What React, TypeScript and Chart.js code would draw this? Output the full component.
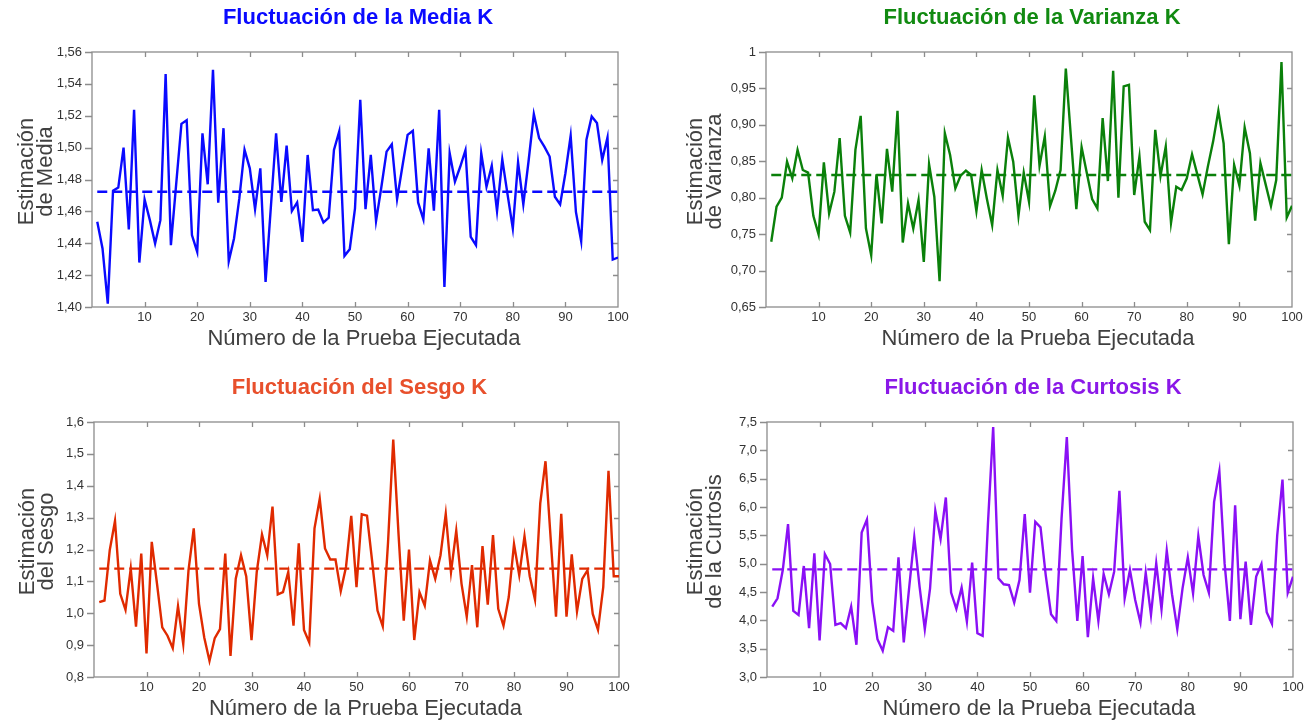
import React, { useEffect, useRef } from 'react';
import { Chart, registerables } from 'chart.js';

Chart.register(...registerables);

// ---------- DATA ----------
const pruebaTickLabels = ['10', '20', '30', '40', '50', '60', '70', '80', '90', '100'];

const mediaK = [
  1.4535, 1.4367, 1.4021, 1.473, 1.4749, 1.5, 1.4486, 1.5237, 1.4279, 1.4675,
  1.4545, 1.4398, 1.4545, 1.5462, 1.4388, 1.477, 1.5149, 1.5172, 1.4451, 1.4346,
  1.509, 1.477, 1.5489, 1.4654, 1.5122, 1.4287, 1.443, 1.468, 1.4986, 1.487,
  1.4614, 1.487, 1.4157, 1.4625, 1.509, 1.466, 1.5013, 1.4602, 1.4656, 1.4409,
  1.4954, 1.4608, 1.4612, 1.453, 1.456, 1.4986, 1.5101, 1.4321, 1.4363, 1.4619,
  1.53, 1.4614, 1.4954, 1.4539, 1.475, 1.4975, 1.5021, 1.4677, 1.488, 1.508,
  1.5105, 1.4656, 1.455, 1.4996, 1.4604, 1.5237, 1.4126, 1.4965, 1.4787, 1.488,
  1.4984, 1.444, 1.4388, 1.4965, 1.4755, 1.4887, 1.4602, 1.4927, 1.4707, 1.4493,
  1.4908, 1.4644, 1.4916, 1.521, 1.506, 1.5006, 1.4944, 1.4692, 1.4644, 1.4839,
  1.5074, 1.4597, 1.4413, 1.505, 1.5196, 1.5154, 1.4923, 1.5064, 1.4298, 1.431,
];
const mediaMean = 1.4723;
const mediaTickLabels = ['1,40', '1,42', '1,44', '1,46', '1,48', '1,50', '1,52', '1,54', '1,56'];

const varianzaK = [
  0.7395, 0.7876, 0.8, 0.8495, 0.8266, 0.8656, 0.838, 0.8344, 0.7752, 0.7495,
  0.8486, 0.7784, 0.8083, 0.8817, 0.7752, 0.7523, 0.8656, 0.9124, 0.7578, 0.7211,
  0.8321, 0.7647, 0.867, 0.8083, 0.9193, 0.7385, 0.7922, 0.7578, 0.7968, 0.7119,
  0.8459, 0.8014, 0.6853, 0.8885, 0.8587, 0.8128, 0.8303, 0.8372, 0.8312, 0.7817,
  0.838, 0.7982, 0.7624, 0.838, 0.8028, 0.8826, 0.8495, 0.7752, 0.8344, 0.7945,
  0.9404, 0.844, 0.884, 0.7885, 0.8096, 0.838, 0.9771, 0.88, 0.7844, 0.8693,
  0.8335, 0.7982, 0.7853, 0.9092, 0.8229, 0.9743, 0.8, 0.9528, 0.955, 0.8037,
  0.8564, 0.767, 0.7555, 0.8931, 0.8298, 0.8702, 0.7656, 0.8151, 0.8106, 0.8266,
  0.8596, 0.832, 0.8046, 0.8427, 0.877, 0.9193, 0.8747, 0.7362, 0.845, 0.8165,
  0.8963, 0.861, 0.7684, 0.8472, 0.818, 0.7885, 0.8243, 0.9862, 0.7729, 0.789,
];
const varianzaMean = 0.8312;
const varianzaTickLabels = ['0,65', '0,70', '0,75', '0,80', '0,85', '0,90', '0,95', '1'];

const sesgoK = [
  1.0347, 1.04, 1.198, 1.2895, 1.061, 1.0105, 1.14, 0.958, 1.1874, 0.8737,
  1.2242, 1.0926, 0.9558, 0.9295, 0.8905, 1.0221, 0.9032, 1.1347, 1.2663, 1.0295,
  0.9242, 0.8505, 0.9221, 0.9505, 1.1874, 0.8663, 1.1084, 1.1821, 1.1158, 0.9158,
  1.1295, 1.2474, 1.1821, 1.3347, 1.059, 1.0663, 1.1295, 0.9611, 1.219, 0.9474,
  0.9084, 1.2663, 1.359, 1.2032, 1.1684, 1.1684, 1.0695, 1.1453, 1.3053, 1.0821,
  1.3105, 1.3063, 1.16, 1.0084, 0.959, 1.22, 1.545, 1.25, 0.977, 1.2,
  0.916, 1.066, 1.024, 1.166, 1.108, 1.182, 1.312, 1.129, 1.259, 1.093,
  0.989, 1.151, 0.956, 1.211, 1.027, 1.245, 1.014, 0.961, 1.051, 1.217,
  1.119, 1.242, 1.116, 1.043, 1.345, 1.477, 1.23, 0.989, 1.312, 0.989,
  1.185, 1.006, 1.108, 1.135, 0.998, 0.948, 1.082, 1.447, 1.116, 1.116,
];
const sesgoMean = 1.14;
const sesgoTickLabels = ['0,8', '0,9', '1,0', '1,1', '1,2', '1,3', '1,4', '1,5', '1,6'];

const curtosisK = [
  4.243, 4.389, 4.888, 5.698, 4.166, 4.096, 4.959, 3.861, 5.182, 3.644,
  5.17, 4.994, 3.92, 3.949, 3.861, 4.243, 3.568, 5.551, 5.78, 4.331,
  3.668, 3.462, 3.879, 3.814, 5.111, 3.609, 4.55, 5.464, 4.6, 3.844,
  4.565, 5.933, 5.434, 6.168, 4.489, 4.202, 4.577, 3.979, 5.017, 3.773,
  3.726, 5.7, 7.412, 4.742, 4.636, 4.624, 4.313, 4.712, 5.874, 4.489,
  5.739, 5.64, 4.79, 4.108, 3.99, 5.8, 7.236, 5.25, 3.99, 5.135,
  3.703, 4.742, 3.99, 4.818, 4.46, 4.859, 6.285, 4.389, 4.888, 4.36,
  3.961, 4.841, 4.096, 5.006, 4.196, 5.229, 4.46, 3.844, 4.565, 5.111,
  4.477, 5.487, 4.8, 4.489, 6.09, 6.631, 5.0, 3.99, 6.032, 4.02,
  5.035, 3.92, 4.771, 4.994, 4.143, 3.938, 5.5, 6.485, 4.489, 4.771,
];
const curtosisMean = 4.9;
const curtosisTickLabels = ['3,0', '3,5', '4,0', '4,5', '5,0', '5,5', '6,0', '6,5', '7,0', '7,5'];

const xTitle = 'Número de la Prueba Ejecutada';

// ---------- PANELS (layout / style) ----------
type Panel = {
  key: string;
  title: string;
  yTitle: string[];
  values: number[];
  mean: number;
  tickLabels: string[];
  lineColor: string;
  titleColor: string;
  left: number;
  top: number;
  width: number;
  height: number;
  area: { l: number; t: number; r: number; b: number };
  yTitleOffsets: number[];
};

const panels: Panel[] = [
  {
    key: 'media', title: 'Fluctuación de la Media K', yTitle: ['Estimación', 'de Media'],
    values: mediaK, mean: mediaMean, tickLabels: mediaTickLabels,
    lineColor: '#0a0aff', titleColor: '#0a0aff',
    left: 0, top: 0, width: 654, height: 362, area: { l: 92, t: 52, r: 618, b: 307 },
    yTitleOffsets: [-65, -46],
  },
  {
    key: 'varianza', title: 'Fluctuación de la Varianza K', yTitle: ['Estimación', 'de Varianza'],
    values: varianzaK, mean: varianzaMean, tickLabels: varianzaTickLabels,
    lineColor: '#0a800a', titleColor: '#118a11',
    left: 654, top: 0, width: 655, height: 362, area: { l: 112, t: 52, r: 638, b: 307 },
    yTitleOffsets: [-70, -51],
  },
  {
    key: 'sesgo', title: 'Fluctuación del Sesgo K', yTitle: ['Estimación', 'del Sesgo'],
    values: sesgoK, mean: sesgoMean, tickLabels: sesgoTickLabels,
    lineColor: '#e02a00', titleColor: '#e8502c',
    left: 0, top: 362, width: 654, height: 361, area: { l: 94, t: 60, r: 619, b: 315 },
    yTitleOffsets: [-66, -47],
  },
  {
    key: 'curtosis', title: 'Fluctuación de la Curtosis K', yTitle: ['Estimación', 'de la Curtosis'],
    values: curtosisK, mean: curtosisMean, tickLabels: curtosisTickLabels,
    lineColor: '#8a10f5', titleColor: '#8a18e8',
    left: 654, top: 362, width: 655, height: 361, area: { l: 113, t: 60, r: 639, b: 315 },
    yTitleOffsets: [-71, -52],
  },
];

const SANS = '"Liberation Sans", Arial, Helvetica, sans-serif';
const TICK_FONT = '"Liberation Sans Narrow", "Liberation Sans", Arial, sans-serif';

function PanelChart({ p }: { p: Panel }) {
  const ref = useRef<HTMLCanvasElement>(null);

  useEffect(() => {
    const canvas = ref.current;
    if (!canvas) return;
    const yVals = p.tickLabels.map((s) => parseFloat(s.replace(',', '.')));
    const xVals = pruebaTickLabels.map((s) => Number(s));
    const points = p.values.map((v, i) => ({ x: i + 1, y: v }));
    const meanPts = [
      { x: 1, y: p.mean },
      { x: p.values.length, y: p.mean },
    ];

    const decor = {
      id: 'decor_' + p.key,
      beforeDatasetsDraw(chart: any) {
        const { ctx, chartArea: a, scales } = chart;
        ctx.save();
        ctx.strokeStyle = '#8c8c8c';
        ctx.lineWidth = 1.3;
        ctx.strokeRect(a.left, a.top, a.right - a.left, a.bottom - a.top);
        ctx.beginPath();
        for (const v of xVals) {
          if (v >= 100) continue;
          const x = Math.round(scales.x.getPixelForValue(v)) + 0.5;
          ctx.moveTo(x, a.bottom);
          ctx.lineTo(x, a.bottom - 5);
          ctx.moveTo(x, a.top);
          ctx.lineTo(x, a.top + 5);
        }
        yVals.forEach((v, i) => {
          const y = Math.round(scales.y.getPixelForValue(v)) + 0.5;
          ctx.moveTo(a.left - 7, y);
          ctx.lineTo(a.left, y);
          if (i > 0 && i < yVals.length - 1) {
            ctx.moveTo(a.right, y);
            ctx.lineTo(a.right - 5, y);
          }
        });
        ctx.stroke();
        ctx.restore();
      },
      afterDraw(chart: any) {
        const { ctx, chartArea: a } = chart;
        const cx = (a.left + a.right) / 2;
        const cy = (a.top + a.bottom) / 2;
        ctx.save();
        ctx.textAlign = 'center';
        ctx.textBaseline = 'middle';
        ctx.fillStyle = p.titleColor;
        ctx.font = 'bold 22px ' + SANS;
        ctx.fillText(p.title, cx + 3, a.top - 34);
        ctx.fillStyle = '#404040';
        ctx.font = '22px ' + SANS;
        ctx.fillText(xTitle, cx + 9, a.bottom + 32);
        p.yTitle.forEach((line, i) => {
          ctx.save();
          ctx.translate(a.left + p.yTitleOffsets[i], cy - 8);
          ctx.rotate(-Math.PI / 2);
          ctx.fillText(line, 0, 0);
          ctx.restore();
        });
        ctx.restore();
      },
    };

    const chart = new Chart(canvas, {
      type: 'line',
      data: {
        datasets: [
          {
            data: points,
            borderColor: p.lineColor,
            borderWidth: 2.4,
            pointRadius: 0,
            tension: 0,
            fill: false,
          },
          {
            data: meanPts,
            borderColor: p.lineColor,
            borderWidth: 2.4,
            borderDash: [10, 5],
            pointRadius: 0,
            fill: false,
          },
        ],
      },
      options: {
        animation: false,
        responsive: false,
        events: [],
        layout: { padding: { left: 0, top: p.area.t, right: p.width - p.area.r, bottom: 0 } },
        plugins: {
          legend: { display: false },
          title: { display: false },
          tooltip: { enabled: false },
        },
        scales: {
          x: {
            type: 'linear',
            min: 0,
            max: 100,
            grid: { display: false, drawTicks: false },
            border: { display: false },
            afterBuildTicks: (s: any) => {
              s.ticks = xVals.map((v) => ({ value: v }));
            },
            afterFit: (s: any) => {
              s.height = p.height - p.area.b;
            },
            ticks: {
              autoSkip: false,
              maxRotation: 0,
              padding: 3,
              color: '#333333',
              font: { family: TICK_FONT, size: 13 },
              callback: (_v: any, i: number) => pruebaTickLabels[i],
            },
          },
          y: {
            type: 'linear',
            min: yVals[0],
            max: yVals[yVals.length - 1],
            grid: { display: false, drawTicks: false },
            border: { display: false },
            afterBuildTicks: (s: any) => {
              s.ticks = yVals.map((v) => ({ value: v }));
            },
            afterFit: (s: any) => {
              s.width = p.area.l;
            },
            ticks: {
              autoSkip: false,
              padding: 10,
              color: '#333333',
              font: { family: TICK_FONT, size: 13 },
              callback: (_v: any, i: number) => p.tickLabels[i],
            },
          },
        },
      } as any,
      plugins: [decor],
    });
    return () => chart.destroy();
  }, [p]);

  return (
    <canvas
      ref={ref}
      width={p.width}
      height={p.height}
      style={{ position: 'absolute', left: p.left, top: p.top, width: p.width, height: p.height }}
    />
  );
}

export default function App() {
  return (
    <div
      style={{
        position: 'absolute',
        left: 0,
        top: 0,
        width: 1309,
        height: 723,
        background: '#ffffff',
        overflow: 'hidden',
      }}
    >
      {panels.map((p) => (
        <PanelChart key={p.key} p={p} />
      ))}
    </div>
  );
}
